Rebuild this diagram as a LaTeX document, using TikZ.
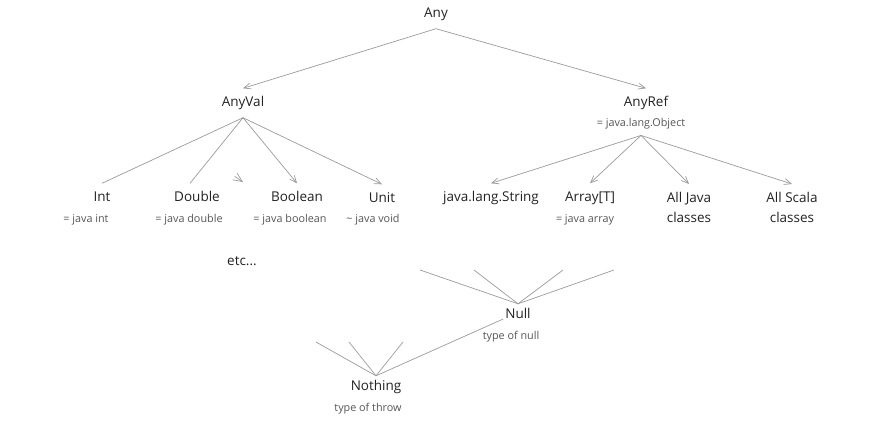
\documentclass[tikz,border=0pt]{standalone}
\usepackage{fontspec}
\setmainfont{Open Sans}
\usetikzlibrary{arrows.meta}
\definecolor{linegray}{HTML}{9A9A9A}
\definecolor{subgray}{HTML}{555555}
\definecolor{maintext}{HTML}{222222}

\begin{document}
\begin{tikzpicture}[x=1pt,y=-1pt,
    link/.style={draw=linegray,line width=0.7pt},
    arr/.style={link,-{Straight Barb[length=7pt,width=6pt,line width=0.7pt]}},
    tname/.style={font=\fontsize{13.5}{20}\selectfont,text=maintext,inner xsep=2pt,inner ysep=8pt,text height=10pt,text depth=3pt},
    tlow/.style={tname,inner ysep=4.5pt},
    tmulti/.style={tname,text height={},text depth={},align=center,anchor=north},
    tsub/.style={font=\fontsize{10.8}{13}\selectfont,text=subgray,inner sep=0pt,inner ysep=6pt,text height=8pt,text depth=2.5pt}]
    \useasboundingbox (0,0) rectangle (872,445);
    %top
    \node[tname] (any) at (436,14) {Any};
    \node[tname] (anyval) at (243,103) {AnyVal};
    \node[tname] (anyref) at (646,103) {AnyRef};
    \node[tsub] (anyrefsub) at (641,124) {= java.lang.Object};
    \draw [arr] (any.south) -- (anyval.north);
    \draw [arr] (any.south) -- (anyref.north);
    %value types
    \node[tname] (int) at (102,198) {Int};
    \node[tname] (double) at (197,198) {Double};
    \node[tname] (boolean) at (297,198) {Boolean};
    \node[tname] (unit) at (382,199) {Unit};
    \node[tsub] at (86,220) {= java int};
    \node[tsub] at (189,220) {= java double};
    \node[tsub] at (290,220) {= java boolean};
    \node[tsub] at (373,220) {\char`\~{} java void};
    \node[tname] (etc) at (242,262) {etc...};
    \draw [link] (anyval.south) -- (int.north);
    \draw [link] (anyval.south) -- ([xshift=-7pt]double.north);
    \draw [arr] (anyval.south) -- (boolean.north);
    \draw [arr] (anyval.south) -- (unit.north);
    \coordinate (stub) at (234.7,176.4);
    \coordinate (stubtip) at (243,182);
    \draw [link,-{Straight Barb[length=9pt,width=8pt,line width=0.7pt]}] (stub) -- (stubtip);
    %reference types
    \node[tname] (string) at (491,198) {java.lang.String};
    \node[tname] (array) at (590,198) {Array[T]};
    \node[tsub] at (585,220) {= java array};
    \node[tmulti] (alljava) at (689,184) {All Java\\classes};
    \node[tmulti] (allscala) at (792,184) {All Scala\\classes};
    \draw [arr] (anyrefsub.south) -- (string.north);
    \draw [arr] (anyrefsub.south) -- (array.north);
    \draw [arr] (anyrefsub.south) -- (alljava.north);
    \draw [arr] (anyrefsub.south) -- (allscala.north);
    %bottom types
    \node[tlow] (null) at (518,315) {Null};
    \node[tsub] at (511,337) {type of null};
    \node[tlow] (nothing) at (376,387) {Nothing};
    \node[tsub] at (368,409) {type of throw};
    \foreach \x [count=\i] in {420,474,563,614}
      \draw [link] (\x,270) coordinate (n\i) -- (null.north);
    \foreach \x [count=\i] in {316,349,403}
      \draw [link] (\x,342) coordinate (t\i) -- (nothing.north);
    \draw [link] ([yshift=-4pt]null.west) -- (nothing.north);
  \end{tikzpicture}
\end{document}
